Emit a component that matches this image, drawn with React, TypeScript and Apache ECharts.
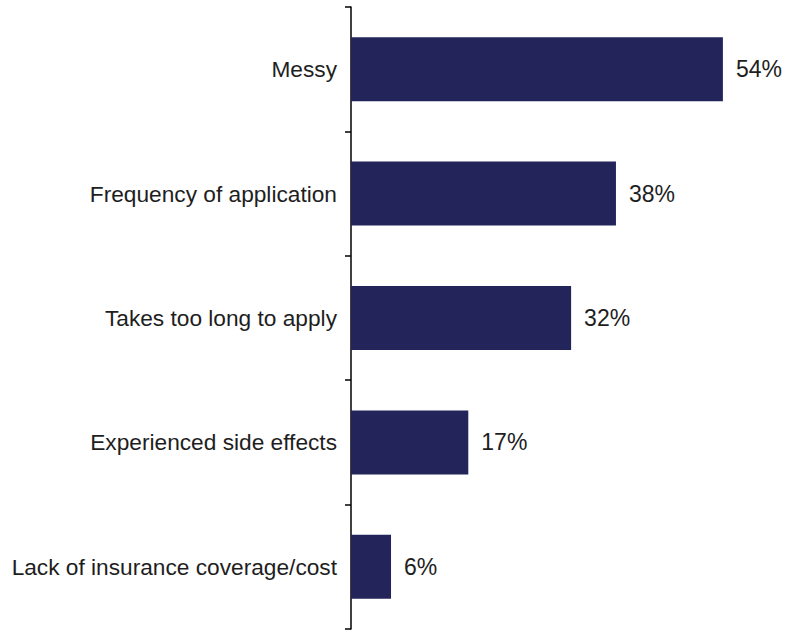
import React, { useEffect, useRef } from "react";
import * as echarts from "echarts";

const categories = [
  "Messy",
  "Frequency of application",
  "Takes too long to apply",
  "Experienced side effects",
  "Lack of insurance coverage/cost",
];
// bar lengths; labels show the rounded percentage
const values = [53.9, 38.4, 31.9, 17.0, 5.8];
const valueLabels = ["54%", "38%", "32%", "17%", "6%"];

const FONT = "'Liberation Sans', Arial, sans-serif";

export default function App() {
  const ref = useRef<HTMLDivElement>(null);
  useEffect(() => {
    if (!ref.current) return;
    const chart = echarts.init(ref.current, null, { renderer: "svg" });
    chart.setOption({
      animation: false,
      backgroundColor: "#ffffff",
      grid: { left: 351, right: 22, top: 7, bottom: 2, containLabel: false },
      xAxis: {
        type: "value",
        min: 0,
        max: 60,
        show: false,
      },
      yAxis: {
        type: "category",
        data: categories,
        inverse: true,
        axisLine: { show: true, lineStyle: { color: "#000000", width: 1.5 } },
        axisTick: { show: true, length: 6, lineStyle: { color: "#000000", width: 1.5 } },
        axisLabel: {
          margin: 14,
          color: "#1e1e1e",
          fontSize: 22.7,
          fontFamily: FONT,
        },
        splitLine: { show: false },
      },
      series: [
        {
          type: "bar",
          data: values,
          barWidth: 64,
          itemStyle: { color: "#23255a" },
          label: {
            show: true,
            position: "right",
            distance: 13,
            formatter: (p: any) => valueLabels[p.dataIndex],
            color: "#1e1e1e",
            fontSize: 23,
            fontFamily: FONT,
          },
        },
      ],
    });
    return () => chart.dispose();
  }, []);
  return (
    <div
      ref={ref}
      style={{ position: "fixed", left: 0, top: 0, width: 787, height: 631 }}
    />
  );
}
